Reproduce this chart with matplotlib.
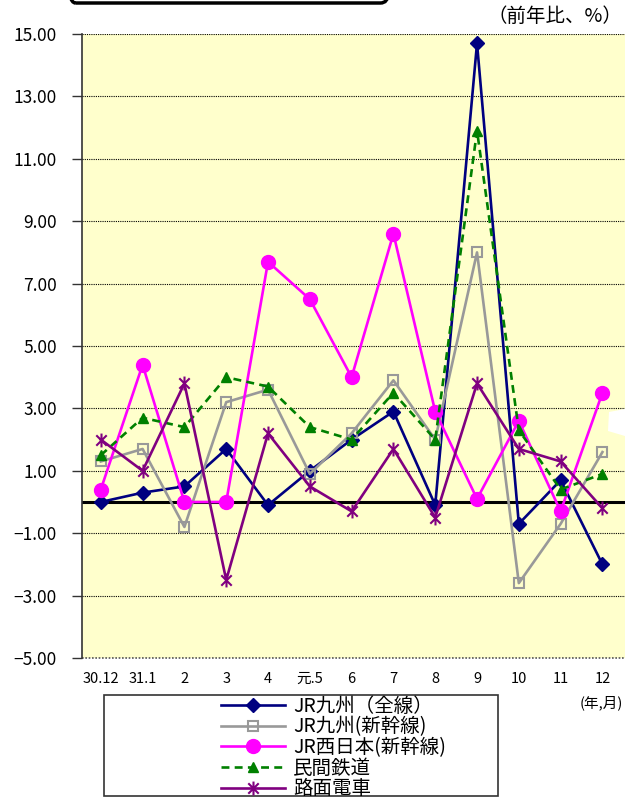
import matplotlib.pyplot as plt
from matplotlib.path import Path
from matplotlib.patches import FancyBboxPatch, Rectangle, Polygon


plt.rcParams["font.family"] = ["Noto Sans CJK JP", "DejaVu Sans"]


# data (year-on-year change, %)

months = ["30.12", "31.1", "2", "3", "4", "元.5", "6", "7", "8", "9", "10", "11", "12"]

jr_kyushu_all = [0.0, 0.3, 0.5, 1.7, -0.1, 1.0, 2.0, 2.9, -0.1, 14.7, -0.7, 0.7, -2.0]
jr_kyushu_shinkansen = [1.3, 1.7, -0.8, 3.2, 3.6, 0.9, 2.2, 3.9, 2.0, 8.0, -2.6, -0.7, 1.6]
jr_west_shinkansen = [0.4, 4.4, 0.0, 0.0, 7.7, 6.5, 4.0, 8.6, 2.9, 0.1, 2.6, -0.3, 3.5]
private_railways = [1.5, 2.7, 2.4, 4.0, 3.7, 2.4, 2.0, 3.5, 2.0, 11.9, 2.3, 0.4, 0.9]
trams = [2.0, 1.0, 3.8, -2.5, 2.2, 0.5, -0.3, 1.7, -0.5, 3.8, 1.7, 1.3, -0.2]

series_names = [
    "JR九州（全線）",
    "JR九州(新幹線)",
    "JR西日本(新幹線)",
    "民間鉄道",
    "路面電車",
]

y_ticks = [-5, -3, -1, 1, 3, 5, 7, 9, 11, 13, 15]


# excel style asterisk marker: x plus vertical bar
star = Path(
    [(0, -1), (0, 1), (-0.75, -0.75), (0.75, 0.75), (-0.75, 0.75), (0.75, -0.75)],
    [Path.MOVETO, Path.LINETO, Path.MOVETO, Path.LINETO, Path.MOVETO, Path.LINETO],
)

x = list(range(len(months)))

fig = plt.figure(figsize=(6.25, 8), dpi=100)
ax = fig.add_axes([82 / 625, 142 / 800, 543 / 625, 624 / 800])
ax.set_facecolor("#FFFFCC")

ax.plot(x, jr_kyushu_all, color="#000080", lw=1.9, marker="D",
        markersize=7.5, label=series_names[0], zorder=3)
ax.plot(x, jr_kyushu_shinkansen, color="#999999", lw=1.9, marker="s",
        markersize=6.5, mfc="none", mew=1.5, label=series_names[1], zorder=3)
ax.plot(x, jr_west_shinkansen, color="#FF00FF", lw=1.9, marker="o",
        markersize=10, label=series_names[2], zorder=3)
ax.plot(x, private_railways, color="#008000", lw=1.9, ls=(0, (3, 2)),
        marker="^", markersize=7, label=series_names[3], zorder=3)
ax.plot(x, trams, color="#800080", lw=1.9, marker=star, markersize=10,
        mew=1.5, label=series_names[4], zorder=3)

ax.axhline(0, color="black", lw=2.2, zorder=2)

ax.set_xlim(-0.45, 12.54)
ax.set_ylim(-5, 15)

ax.set_yticks(y_ticks)
ax.set_yticklabels([f"{v:.2f}".replace("-", "−") for v in y_ticks], fontsize=12.5)
ax.set_xticks(x)
ax.set_xticklabels(months, fontsize=10.5)

ax.tick_params(axis="y", direction="out", length=7, width=1, color="#333333", pad=11)
ax.tick_params(axis="x", length=0, pad=10)

ax.grid(axis="y", color="black", ls=(0, (1, 1)), lw=0.8, zorder=1)
ax.set_axisbelow(True)

for side in ["top", "right", "bottom"]:
    ax.spines[side].set_visible(False)
ax.spines["left"].set_color("#333333")
ax.spines["left"].set_linewidth(1.2)
ax.axhline(-5, color="#555555", ls=(0, (1, 1)), lw=1.2, clip_on=False)

fig.text(622 / 625, 1 - 16 / 800, "（前年比、%）", ha="right", va="center", fontsize=14)
fig.text(601 / 625, 1 - 703 / 800, "(年,月)", ha="center", va="center", fontsize=10.5)

# legend box and entries
fig.patches.append(Rectangle((104 / 625, 4 / 800), 394 / 625, 101 / 800,
                             transform=fig.transFigure, fill=False,
                             edgecolor="#333333", lw=1.2))
handles, labels = ax.get_legend_handles_labels()
fig.legend(handles, labels, loc="upper left",
           bbox_to_anchor=(221 / 625, 1 - 696 / 800),
           frameon=False, fontsize=14, handlelength=3.3, handletextpad=0.4,
           labelspacing=-0.02, borderpad=0, borderaxespad=0)

# bottom of the title box cut off at the top of the page
fig.patches.append(FancyBboxPatch((68 / 625, 1 - 3 / 800), 320 / 625, 0.05,
                                  boxstyle="round,pad=0,rounding_size=0.012",
                                  transform=fig.transFigure, fill=False,
                                  edgecolor="black", lw=2.5))

fig.patches.append(Polygon([(609 / 625, 1 - 412 / 800), (1, 1 - 409 / 800),
                            (1, 1 - 436 / 800), (608 / 625, 1 - 431 / 800)],
                           closed=True, transform=fig.transFigure,
                           facecolor="white", edgecolor="none", zorder=5))

fig.savefig("out.png", dpi=100)
